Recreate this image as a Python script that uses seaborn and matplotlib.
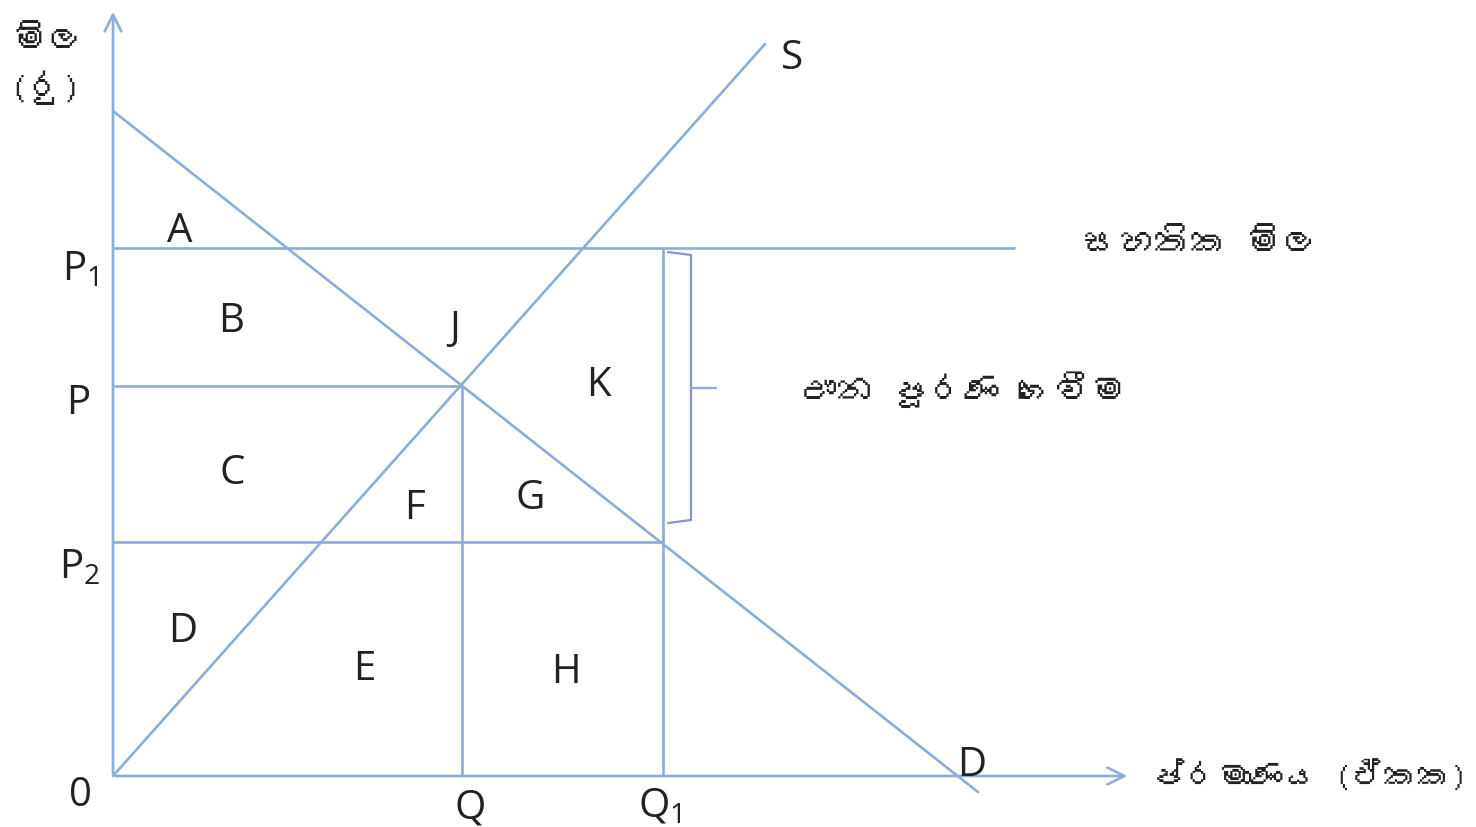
import matplotlib
matplotlib.use("Agg")
import matplotlib.pyplot as plt
import seaborn as sns
import pandas as pd
from matplotlib import font_manager
from matplotlib.ft2font import FT2Font

# ---- data (price / quantity units) ----
demand_q = [0.0, 86.5]
demand_p = [66.5, -1.6]
supply_q = [0.0, 65.2]
supply_p = [0.0, 73.2]
price_levels = {"P1": 52.8, "P": 39.0, "P2": 23.4}
qty_levels = {"Q": 34.9, "Q1": 55.0}
support_end_q = 90.2
area_labels = ["A", "B", "J", "K", "C", "F", "G", "D", "E", "H"]
area_x = [6.7, 11.8, 34.2, 48.5, 11.9, 30.2, 41.7, 7.0, 25.1, 45.3]
area_y = [54.5, 45.5, 44.7, 39.1, 30.3, 26.8, 27.8, 14.5, 10.7, 10.4]
y_label_1 = "මිල"
y_label_2 = "(රු)"
x_label = "ප්රමාණය (ඒකක)"
support_label = "සහතික මිල"
payment_label = "ඌන පූරණ ගෙවීම"

sns.set_theme(style="white")
LAT = "Open Sans"

# find a font with Sinhala glyphs if any
sin_font = None
for f in font_manager.fontManager.ttflist:
    try:
        if ord("ම") in FT2Font(f.fname).get_charmap():
            sin_font = f.name
            break
    except Exception:
        pass
sin_family = [sin_font, "DejaVu Sans"] if sin_font else ["DejaVu Sans"]
plt.rcParams["font.family"] = [LAT, "DejaVu Sans"]

BLUE = "#8aaed8"
LW = 1.9
INK = "#222222"

fig = plt.figure(figsize=(14.76, 8.28), dpi=100)
ax = fig.add_axes([0, 0, 1, 1])
ax.set_xlim(-11.3, 136.3)
ax.set_ylim(-5.1, 77.7)
ax.axis("off")

df_d = pd.DataFrame({"q": demand_q, "p": demand_p})
df_s = pd.DataFrame({"q": supply_q, "p": supply_p})
sns.lineplot(data=df_d, x="q", y="p", ax=ax, color=BLUE, lw=LW, sort=False)
sns.lineplot(data=df_s, x="q", y="p", ax=ax, color=BLUE, lw=LW, sort=False)

P1, P, P2 = price_levels["P1"], price_levels["P"], price_levels["P2"]
Q, Q1 = qty_levels["Q"], qty_levels["Q1"]
ax.hlines(P1, 0, support_end_q, color=BLUE, lw=LW)
ax.hlines(P, 0, Q, color=BLUE, lw=LW)
ax.hlines(P2, 0, Q1, color=BLUE, lw=LW)
ax.vlines(Q, 0, P, color=BLUE, lw=LW)
ax.vlines(Q1, 0, P1, color=BLUE, lw=LW)

# axes with open arrowheads
arrow = dict(arrowstyle="->,head_length=1.0,head_width=0.5", color=BLUE, lw=LW)
ax.annotate("", xy=(0, 76.7), xytext=(0, 0), arrowprops=arrow)
ax.annotate("", xy=(101.7, 0), xytext=(0, 0), arrowprops=arrow)

# bracket
bx0, bx1, btip = 55.5, 57.8, 60.3
btop, bbot = 52.4, 25.3
bmid = (btop + bbot) / 2
ax.plot([bx0, bx1, bx1, bx1, bx1, bx0], [btop, btop - 0.3, bmid + 0.4, bmid, bbot + 0.3, bbot],
        color="#8a90d8", lw=1.6)
ax.plot([bx1, btip], [bmid, bmid], color=BLUE, lw=1.6)

FS = 29
for t, x, y in zip(area_labels, area_x, area_y):
    ax.text(x, y, t, fontsize=FS, ha="center", va="center", color=INK)
ax.text(67.9, 71.8, "S", fontsize=FS, ha="center", va="center", color=INK)
ax.text(85.9, 1.1, "D", fontsize=FS, ha="center", va="center", color=INK)

ax.text(-3.3, 50.7, r"P$_\mathregular{1}$", fontsize=FS, ha="center", va="center", color=INK)
ax.text(-3.5, 37.3, "P", fontsize=FS, ha="center", va="center", color=INK)
ax.text(-3.3, 20.9, r"P$_\mathregular{2}$", fontsize=FS, ha="center", va="center", color=INK)
ax.text(-3.3, -1.9, "0", fontsize=FS, ha="center", va="center", color=INK)
ax.text(35.7, -3.1, "Q", fontsize=FS, ha="center", va="center", color=INK)
ax.text(54.7, -3.0, r"Q$_\mathregular{1}$", fontsize=FS, ha="center", va="center", color=INK)

SFS = 26
ax.text(-6.5, 73.5, y_label_1, fontsize=SFS, ha="center", va="center", family=sin_family, color=INK)
ax.text(-6.8, 68.9, y_label_2, fontsize=SFS, ha="center", va="center", family=sin_family, color=INK)
ax.text(108.7, 53.4, support_label, fontsize=SFS, ha="center", va="center", family=sin_family, color=INK)
ax.text(85.2, 38.7, payment_label, fontsize=SFS, ha="center", va="center", family=sin_family, color=INK)
ax.text(135.5, 0.1, x_label, fontsize=24, ha="right", va="center", family=sin_family, color=INK)

fig.savefig("out.png", dpi=100)
